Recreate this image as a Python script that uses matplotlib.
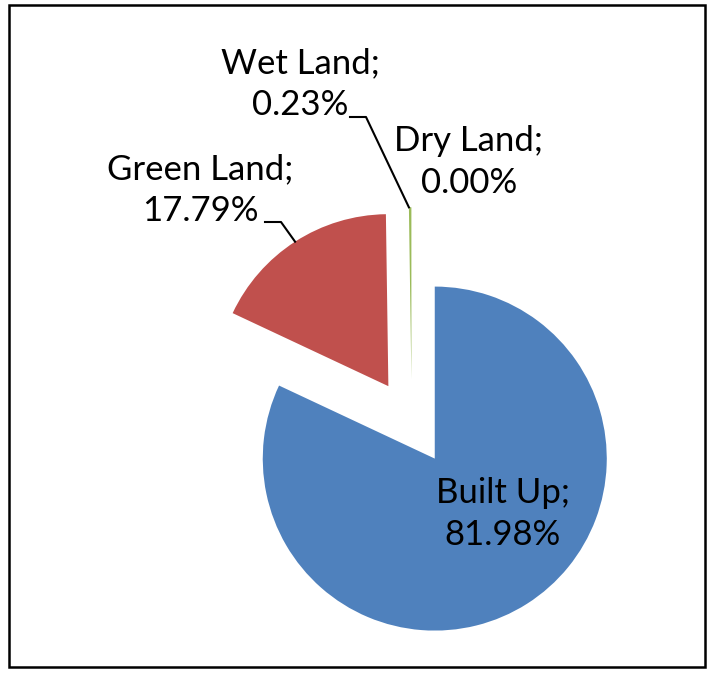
import numpy as np
import matplotlib
matplotlib.use("Agg")
import matplotlib.pyplot as plt
from matplotlib.patches import Rectangle

# land use shares (%)
categories = ["Built Up", "Green Land", "Wet Land", "Dry Land"]
shares = [81.98, 17.79, 0.23, 0.00]
colors = ["#4F81BD", "#C0504D", "#9BBB59", "#8064A2"]

W, H = 707, 675
fig = plt.figure(figsize=(W / 100, H / 100), dpi=100)
ax = fig.add_axes([0, 0, 1, 1])

# work in pixel units, y up
cx, cy, R = 411.7, H - 422.3, 172
# explode is in data units here (pixels), about a quarter radius
wedges, _ = ax.pie(shares, colors=colors, startangle=90, counterclock=False,
                   explode=[0.25 * R] * len(shares), radius=R, center=(cx, cy),
                   wedgeprops=dict(linewidth=0), frame=True)
ax.set_xlim(0, W)
ax.set_ylim(0, H)
ax.set_aspect("equal")
ax.axis("off")

plt.rcParams['font.family'] = ['Lato', 'DejaVu Sans']

# label text centres (pixel, y down) and leader start points
label_pos = {"Built Up": (503, 514), "Green Land": (200, 190),
             "Wet Land": (300, 84), "Dry Land": (469, 162)}
leaders = {"Green Land": (265, 222, "mid"), "Wet Land": (350, 117, "top")}

for w, name, v in zip(wedges, categories, shares):
    x, y = label_pos[name]
    ax.text(x, H - y, f"{name};\n{v:.2f}%", ha="center", va="center",
            fontsize=25, linespacing=1.4, color="black")
    if name in leaders:
        lx, ly, where = leaders[name]
        wx, wy = w.center
        if where == "mid":
            a = np.deg2rad((w.theta1 + w.theta2) / 2)
        else:
            a = np.deg2rad(w.theta2)
        px, py = wx + w.r * np.cos(a), wy + w.r * np.sin(a)
        ax.plot([lx, lx + 16, px], [H - ly, H - ly, py], color="black", lw=1.5)

fig.patches.append(Rectangle((9 / W, 8 / H), 696 / W, 662 / H,
                             transform=fig.transFigure, fill=False,
                             edgecolor="black", linewidth=1.8))

fig.savefig("out.png", dpi=100)
